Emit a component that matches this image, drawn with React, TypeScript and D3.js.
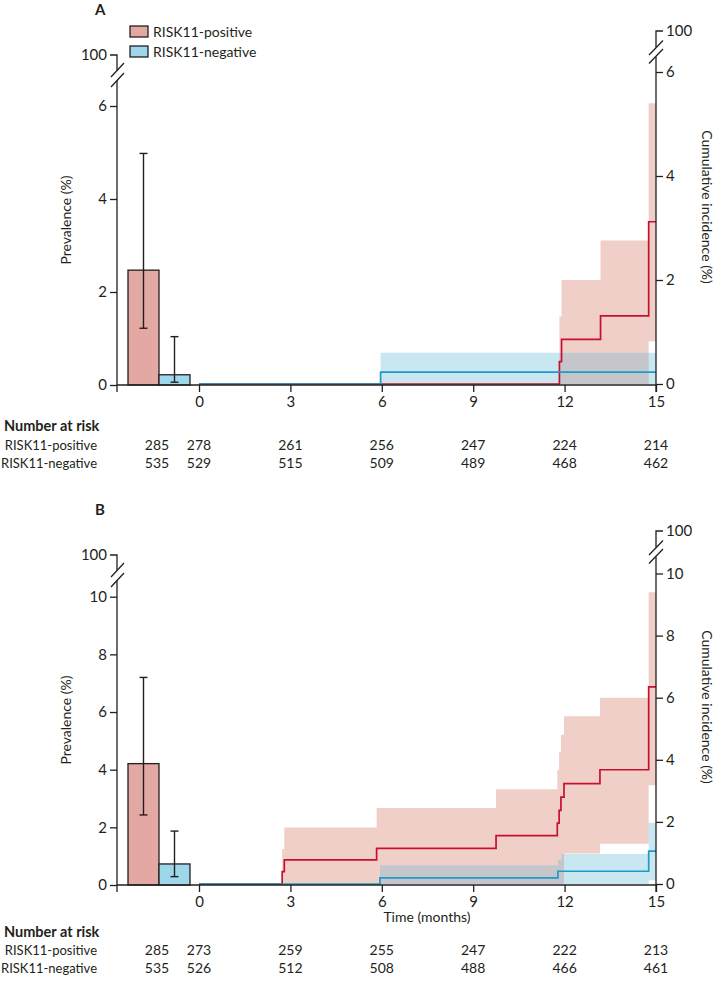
import { useEffect, useRef } from 'react';
import * as d3 from 'd3';

const W = 715;
const H = 983;

const months = [0, 3, 6, 9, 12, 15];
const groups = ['RISK11-positive', 'RISK11-negative'];

// panel A — prevalence bars (%), with 95% CI
const prevA = [2.47, 0.22];
const prevLoA = [1.22, 0.06];
const prevHiA = [4.98, 1.04];
// panel A — cumulative incidence steps (%)
const posTimesA = [0, 11.83, 11.9, 13.18, 14.76];
const posEstA = [0, 0.43, 0.86, 1.31, 3.12];
const posLoA = [0, 0, 0, 0, 0.82];
const posHiA = [0, 1.3, 2.0, 2.76, 5.4];
const negTimesA = [0, 5.96];
const negEstA = [0, 0.23];
const negLoA = [0, 0];
const negHiA = [0, 0.6];
const riskPosA = [285, 278, 261, 256, 247, 224, 214];
const riskNegA = [535, 529, 515, 509, 489, 468, 462];

// panel B
const prevB = [4.21, 0.73];
const prevLoB = [2.43, 0.29];
const prevHiB = [7.2, 1.87];
const posTimesB = [0, 2.73, 2.8, 5.83, 9.75, 11.76, 11.82, 11.88, 11.98, 13.16, 14.76];
const posEstB = [0, 0.4, 0.78, 1.15, 1.56, 1.96, 2.37, 2.8, 3.23, 3.68, 6.35];
const posLoB = [0, 0, 0, 0, 0, 0, 0, 0, 0.98, 1.3, 3.18];
const posHiB = [0, 1.13, 1.82, 2.45, 3.05, 3.66, 4.25, 4.81, 5.4, 6.0, 9.4];
const negTimesB = [0, 5.94, 11.78, 11.9, 14.76];
const negEstB = [0, 0.2, 0.41, 0.41, 1.06];
const negLoB = [0, 0, 0, 0, 0.12];
const negHiB = [0, 0.6, 0.78, 0.97, 1.97];
const riskPosB = [285, 273, 259, 255, 247, 222, 213];
const riskNegB = [535, 526, 512, 508, 488, 466, 461];

const ink = '#231f20';
const font = 'Lato, "Open Sans", sans-serif';
const pinkBar = '#e3a8a2';
const blueBar = '#9fd7ea';
const pinkBand = '#f0cfc9';
const blueBand = '#c9e7f1';
const greyBand = '#c5c5cc';
const redLine = '#c8102e';
const blueLine = '#1b9bc8';

const panels = [
  {
    key: 'A', top: 0, leftMax: 6, leftMaxY: 106, rightMax: 6, rightMaxY: 72,
    prev: prevA, prevLo: prevLoA, prevHi: prevHiA,
    pos: { t: posTimesA, est: posEstA, lo: posLoA, hi: posHiA },
    neg: { t: negTimesA, est: negEstA, lo: negLoA, hi: negHiA },
    riskPos: riskPosA, riskNeg: riskNegA,
    legend: true, timeLabel: false, tableY: [431, 450, 468],
  },
  {
    key: 'B', top: 500, leftMax: 10, leftMaxY: 96.7, rightMax: 10, rightMaxY: 73.5,
    prev: prevB, prevLo: prevLoB, prevHi: prevHiB,
    pos: { t: posTimesB, est: posEstB, lo: posLoB, hi: posHiB },
    neg: { t: negTimesB, est: negEstB, lo: negLoB, hi: negHiB },
    riskPos: riskPosB, riskNeg: riskNegB,
    legend: false, timeLabel: true, tableY: [437, 455, 473],
  },
];

function steps(s) {
  const pts = s.t.map((t, i) => ({ t, est: s.est[i], lo: s.lo[i], hi: s.hi[i] }));
  const last = pts[pts.length - 1];
  pts.push({ ...last, t: 15 });
  return pts;
}

function drawPanel(svg, p) {
  const g = svg.append('g').attr('transform', `translate(0,${p.top})`);
  const base = 385;
  const axL = 117;
  const axR = 656;

  const x = d3.scaleLinear().domain([0, 15]).range([199, axR]);
  const yL = d3.scaleLinear().domain([0, p.leftMax]).range([base, p.leftMaxY]);
  const yR = d3.scaleLinear().domain([0, p.rightMax]).range([base - 1, p.rightMaxY]);
  const band = d3.scaleBand().domain(groups).range([128, 190]);

  const pos = steps(p.pos);
  const neg = steps(p.neg);

  const area = d3.area().curve(d3.curveStepAfter)
    .x(d => x(d.t)).y0(d => yR(d.lo)).y1(d => yR(d.hi));
  const line = d3.line().curve(d3.curveStepAfter)
    .x(d => x(d.t)).y(d => yR(d.est));

  // confidence bands; overlap shown grey (blue band clipped to pink band)
  g.append('clipPath').attr('id', 'clip' + p.key)
    .append('path').attr('d', area(pos));
  g.append('path').attr('d', area(pos)).attr('fill', pinkBand);
  g.append('path').attr('d', area(neg)).attr('fill', blueBand);
  g.append('path').attr('d', area(neg)).attr('fill', greyBand)
    .attr('clip-path', `url(#clip${p.key})`);

  g.append('path').attr('d', line(pos)).attr('fill', 'none')
    .attr('stroke', redLine).attr('stroke-width', 1.7);
  g.append('path').attr('d', line(neg)).attr('fill', 'none')
    .attr('stroke', blueLine).attr('stroke-width', 1.7);

  // prevalence bars
  g.selectAll('rect.bar').data(groups).join('rect')
    .attr('class', 'bar')
    .attr('x', d => band(d))
    .attr('width', band.bandwidth())
    .attr('y', (d, i) => yL(p.prev[i]))
    .attr('height', (d, i) => base - yL(p.prev[i]))
    .attr('fill', (d, i) => (i === 0 ? pinkBar : blueBar))
    .attr('stroke', ink).attr('stroke-width', 1.3);

  const eb = g.append('g').attr('stroke', ink).attr('stroke-width', 1.4);
  groups.forEach((grp, i) => {
    const cx = band(grp) + band.bandwidth() / 2;
    eb.append('line').attr('x1', cx).attr('x2', cx)
      .attr('y1', yL(p.prevLo[i])).attr('y2', yL(p.prevHi[i]));
    [p.prevLo[i], p.prevHi[i]].forEach(v => {
      eb.append('line').attr('x1', cx - 4).attr('x2', cx + 4)
        .attr('y1', yL(v)).attr('y2', yL(v));
    });
  });

  // axes
  const styleAxis = sel => {
    sel.select('.domain').remove();
    sel.selectAll('line').attr('stroke', ink).attr('stroke-width', 1.3);
    sel.selectAll('text').attr('fill', ink).style('font-family', font).style('font-size', '15px');
  };
  const fmt = d3.format('d');
  g.append('g').attr('transform', `translate(${axL},0)`)
    .call(d3.axisLeft(yL).tickValues(d3.range(0, p.leftMax + 1, 2)).tickFormat(fmt).tickSize(7).tickPadding(3))
    .call(styleAxis);
  g.append('g').attr('transform', `translate(${axR},0)`)
    .call(d3.axisRight(yR).tickValues(d3.range(0, p.rightMax + 1, 2)).tickFormat(fmt).tickSize(7).tickPadding(3))
    .call(styleAxis);
  g.append('g').attr('transform', `translate(0,${base})`)
    .call(d3.axisBottom(x).tickValues(months).tickFormat(fmt).tickSize(7).tickPadding(4))
    .call(styleAxis);

  const axisLines = g.append('g').attr('stroke', ink).attr('stroke-width', 1.3).attr('fill', 'none');
  // x baseline
  axisLines.append('line').attr('x1', axL).attr('x2', axR).attr('y1', base).attr('y2', base);
  // left axis with break
  axisLines.append('path').attr('d', `M${axL - 7},55H${axL}V70.5M${axL},80.5V${base + 7}`);
  axisLines.append('path').attr('d', 'M111,77L124,63M111,87L124,73');
  // right axis with break
  axisLines.append('path').attr('d', `M${axR + 7},31H${axR}V47.5M${axR},56.5V${base + 7}`);
  axisLines.append('path').attr('d', `M649,55L663,40.5M649,63.5L663,49`);

  const txt = (sel) => sel.attr('fill', ink).style('font-family', font);
  g.append('text').attr('x', axL - 10).attr('y', 55).attr('dy', '0.32em')
    .attr('text-anchor', 'end').style('font-size', '15px').text('100').call(txt);
  g.append('text').attr('x', axR + 10).attr('y', 31).attr('dy', '0.32em')
    .style('font-size', '15px').text('100').call(txt);

  // panel letter
  g.append('text').attr('x', 95).attr('y', 15).style('font-size', '15px')
    .style('font-weight', 'bold').text(p.key).call(txt);

  // axis titles
  g.append('text').attr('transform', 'translate(66,220) rotate(-90)')
    .attr('text-anchor', 'middle').attr('dy', '0.35em').style('font-size', '14px')
    .text('Prevalence (%)').call(txt);
  g.append('text').attr('transform', 'translate(707,207) rotate(90)')
    .attr('text-anchor', 'middle').attr('dy', '0.35em').style('font-size', '14px')
    .text('Cumulative incidence (%)').call(txt);
  if (p.timeLabel) {
    g.append('text').attr('x', 427).attr('y', 422).attr('text-anchor', 'middle')
      .style('font-size', '14px').text('Time (months)').call(txt);
  }

  // legend
  if (p.legend) {
    groups.forEach((grp, i) => {
      const ly = 26 + i * 20;
      g.append('rect').attr('x', 130).attr('y', ly).attr('width', 18).attr('height', 11)
        .attr('fill', i === 0 ? pinkBar : blueBar).attr('stroke', ink).attr('stroke-width', 1.3);
      g.append('text').attr('x', 153).attr('y', ly + 10.5).style('font-size', '14px')
        .text(grp).call(txt);
    });
  }

  // number at risk table
  const [yHead, yPos, yNeg] = p.tableY;
  g.append('text').attr('x', 4).attr('y', yHead).style('font-size', '14.5px')
    .style('font-weight', 'bold').text('Number at risk').call(txt);
  const colX = [band.range()[0] + 29].concat(months.map(m => x(m)));
  [[groups[0], p.riskPos, yPos], [groups[1], p.riskNeg, yNeg]].forEach(([lab, vals, yy]) => {
    g.append('text').attr('x', 97).attr('y', yy).attr('text-anchor', 'end')
      .style('font-size', '13px').text(lab).call(txt);
    vals.forEach((v, i) => {
      g.append('text').attr('x', colX[i]).attr('y', yy).attr('text-anchor', 'middle')
        .style('font-size', '14px').text(v).call(txt);
    });
  });
}

function App() {
  const svgRef = useRef(null);

  useEffect(() => {
    const svg = d3.select(svgRef.current);
    svg.selectAll('*').remove();
    panels.forEach(p => drawPanel(svg, p));
  }, []);

  return (
    <svg
      ref={svgRef}
      width={W}
      height={H}
      style={{ position: 'absolute', left: 0, top: 0, background: '#fff' }}
    />
  );
}

export default App;
